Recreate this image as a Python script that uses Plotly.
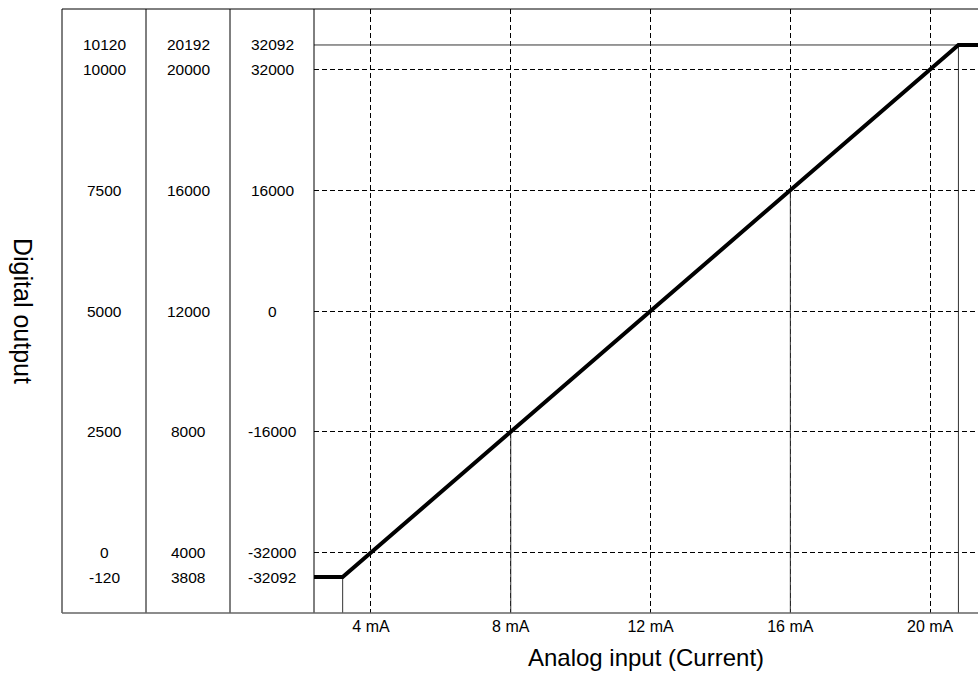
import plotly.graph_objects as go

# ---- data ----
tick_mA = [4, 8, 12, 16, 20]
tick_text = ["4 mA", "8 mA", "12 mA", "16 mA", "20 mA"]

# row levels (in the ±32000 scale; saturation rows drawn schematically)
row_levels = [35250, 32000, 16000, 0, -16000, -32000, -35250]
col1_labels = ["10120", "10000", "7500", "5000", "2500", "0", "-120"]
col2_labels = ["20192", "20000", "16000", "12000", "8000", "4000", "3808"]
col3_labels = ["32092", "32000", "16000", "0", "-16000", "-32000", "-32092"]
grid_levels = [32000, 16000, 0, -16000, -32000]

# transfer curve
curve_mA = [2.37, 3.19, 20.81, 21.37]
curve_out = [-35250, -35250, 35250, 35250]

# thin drop lines: (current, level)
drop_mA = [3.19, 8, 16, 20.81]
drop_out = [-35250, -16000, 16000, 35250]

x_range = [2.37, 21.37]
y_range = [-40016, 40016]

W, H = 978, 673
L, R, T, B = 62, 0, 9, 60
plot_w = W - L - R
x_left_px = 314
dom0 = (x_left_px - L) / plot_w
col_edges_px = [62, 146, 230, 314]
col_edges = [(p - L) / plot_w for p in col_edges_px]
col_centers = [(col_edges[i] + col_edges[i + 1]) / 2 for i in range(3)]

FONT = "Arial, 'Liberation Sans', sans-serif"

fig = go.Figure()

# drop lines
xs, ys = [], []
for cx, cy in zip(drop_mA, drop_out):
    xs += [cx, cx, None]
    ys += [y_range[0], cy, None]
# horizontal saturation line at top
xs += [x_range[0], drop_mA[-1], None]
ys += [drop_out[-1], drop_out[-1], None]
fig.add_trace(go.Scatter(x=xs, y=ys, mode="lines",
                         line=dict(color="#333333", width=1),
                         hoverinfo="skip", showlegend=False, cliponaxis=False))

fig.add_trace(go.Scatter(x=curve_mA, y=curve_out, mode="lines",
                         line=dict(color="black", width=4),
                         hoverinfo="skip", showlegend=False))

# column labels
for cx, labels in zip(col_centers, [col1_labels, col2_labels, col3_labels]):
    for lv, t in zip(row_levels, labels):
        fig.add_annotation(x=cx, y=lv, xref="paper", yref="y", text=t,
                           showarrow=False, font=dict(size=15.5, color="black", family=FONT),
                           xanchor="center", yanchor="middle")

shapes = []
# frame: left and top
shapes.append(dict(type="line", xref="paper", yref="paper", x0=0, x1=0, y0=0, y1=1,
                   line=dict(color="black", width=1)))
shapes.append(dict(type="line", xref="paper", yref="paper", x0=0, x1=1, y0=1, y1=1,
                   line=dict(color="black", width=1)))
for ce in col_edges[1:]:
    shapes.append(dict(type="line", xref="paper", yref="paper", x0=ce, x1=ce, y0=0, y1=1,
                       line=dict(color="black", width=1)))
# bottom line
shapes.append(dict(type="line", xref="paper", yref="paper", x0=0, x1=1, y0=0, y1=0,
                   line=dict(color="#666666", width=1.5)))

# y-axis title (rotated clockwise)
fig.add_annotation(x=(23 - L) / plot_w, y=0.5, xref="paper", yref="paper",
                   text="Digital output", showarrow=False, textangle=90,
                   xanchor="center", yanchor="middle",
                   font=dict(size=25, color="black", family=FONT))

fig.update_layout(
    width=W, height=H,
    margin=dict(l=L, r=R, t=T, b=B),
    paper_bgcolor="white", plot_bgcolor="white",
    shapes=shapes,
    font=dict(family=FONT, color="black"),
    xaxis=dict(domain=[dom0, 1], range=x_range, tickvals=tick_mA, ticktext=tick_text,
               showgrid=True, gridcolor="black", gridwidth=1, griddash="5px,3px",
               zeroline=False, showline=False, ticks="", tickfont=dict(size=16),
               ticklabelstandoff=2,
               title=dict(text="Analog input (Current)", font=dict(size=24), standoff=15),
               fixedrange=True),
    yaxis=dict(range=y_range, tickvals=grid_levels, showticklabels=False,
               showgrid=True, gridcolor="black", gridwidth=1, griddash="5px,3px",
               zeroline=False, showline=False, ticks="", fixedrange=True),
)

fig.write_html("out.html", config={"displayModeBar": False},
               post_script="document.body.style.margin='0';document.body.style.overflow='hidden';")
